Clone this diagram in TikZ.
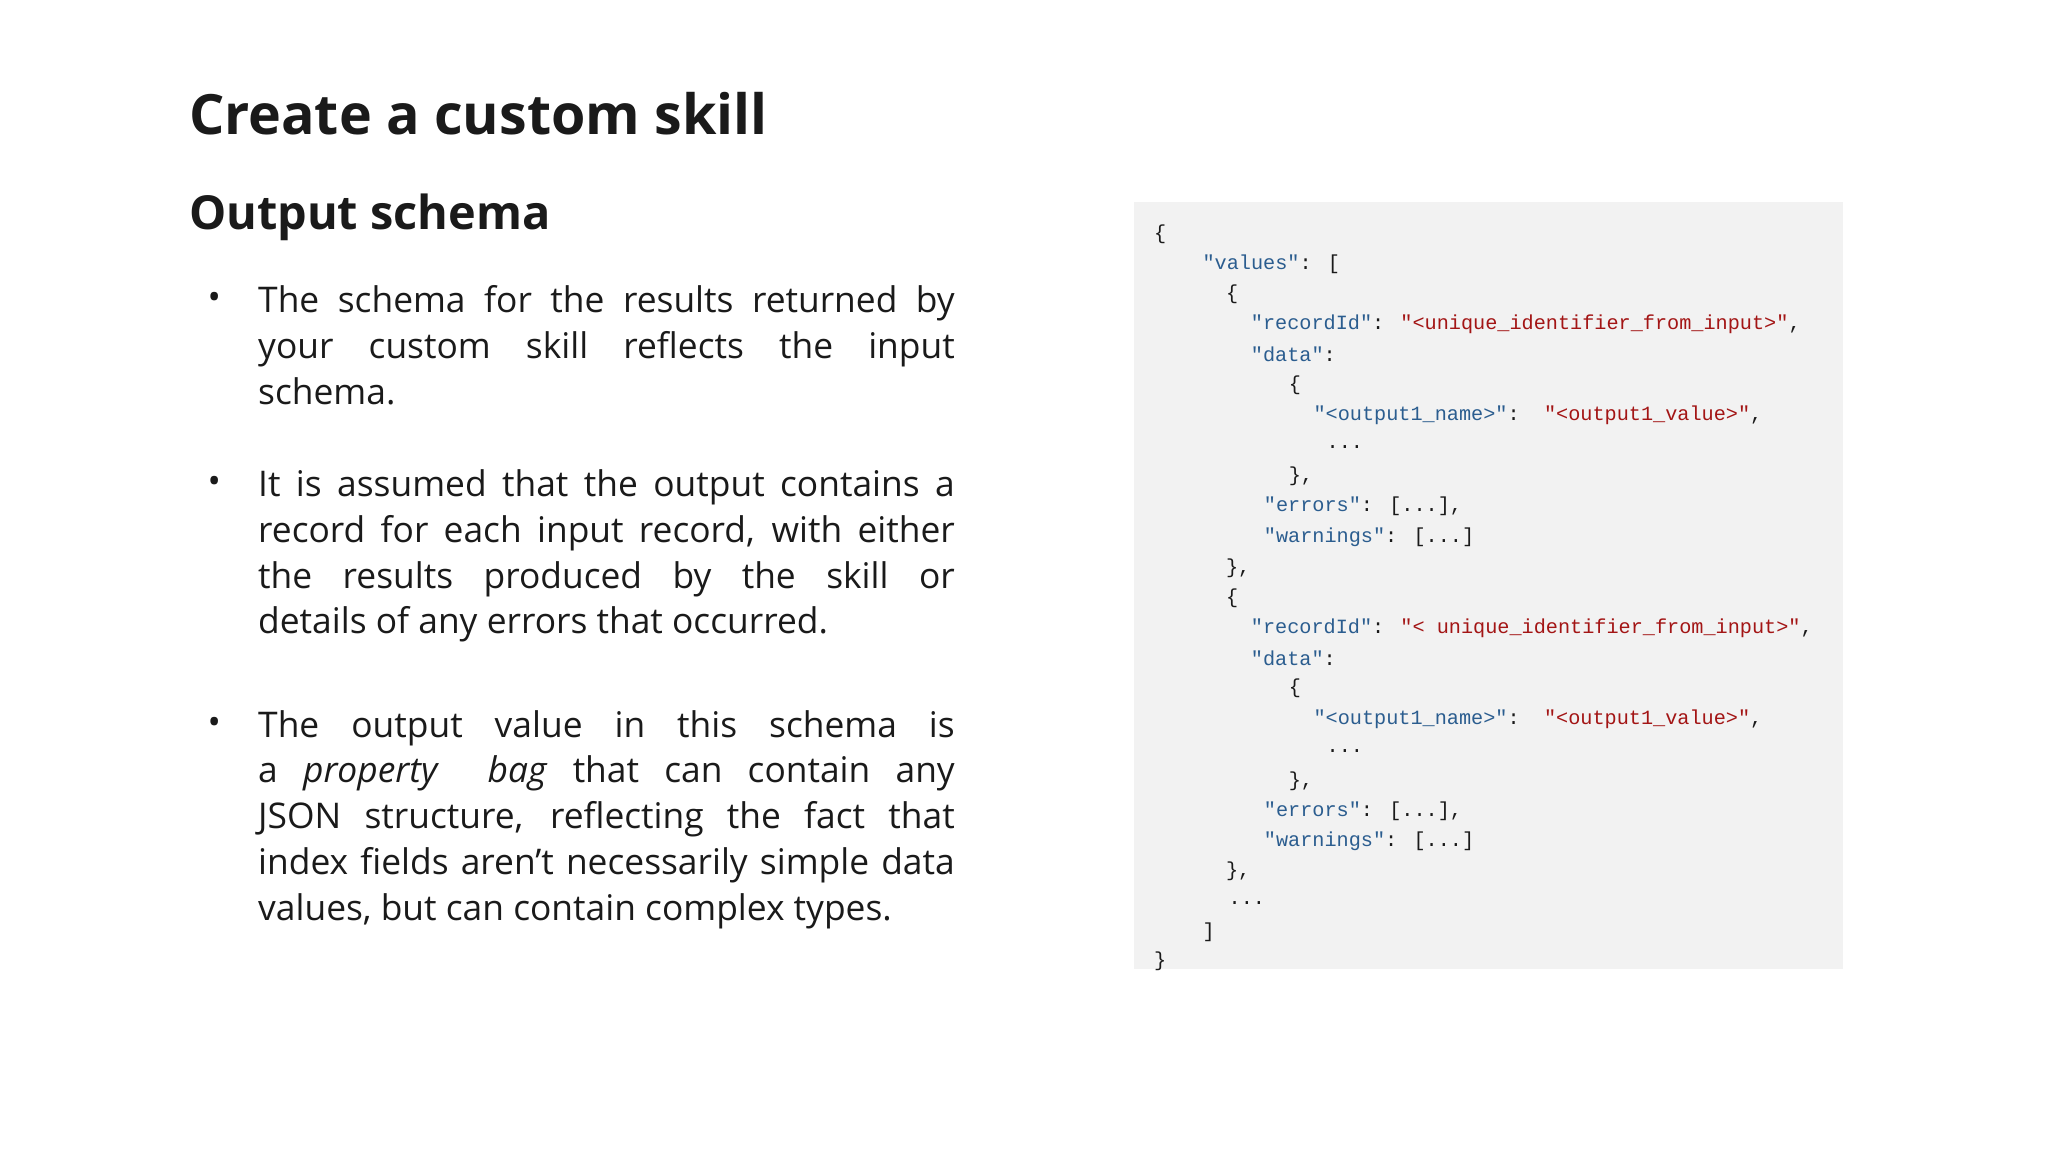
\documentclass[tikz,border=0pt]{standalone}
\usepackage{fontspec}
\setmainfont{Open Sans}
\newfontfamily\codefont{Liberation Mono}
\definecolor{keyc}{HTML}{2B5D8F}
\definecolor{strc}{HTML}{A31515}
\definecolor{boxc}{HTML}{F2F2F2}
\definecolor{txt}{HTML}{1A1A1A}
\newcommand{\Kk}[1]{\textcolor{keyc}{#1}}
\newcommand{\Ss}[1]{\textcolor{strc}{#1}}
\begin{document}
\begin{tikzpicture}[x=0.01cm,y=-0.01cm,
  code/.style={anchor=west,inner sep=0,font=\codefont\fontsize{4.4pt}{5pt}\selectfont,text=txt},
  para/.style={anchor=north west,inner sep=0,text width=5.33cm,align=justify,font=\fontsize{7.7pt}{9.96pt}\selectfont,text=txt},
  bul/.style={anchor=base,inner sep=0,font=\fontsize{7.7pt}{9pt}\selectfont,text=txt}]
\useasboundingbox (0,0) rectangle (1568,882);
\node[anchor=base west,inner sep=0,font=\bfseries\fontsize{12.1pt}{14pt}\selectfont,text=txt] (title) at (144,103) {Create a custom skill};
\node[anchor=base west,inner sep=0,font=\bfseries\fontsize{10.2pt}{12pt}\selectfont,text=txt] (sub) at (144,176) {Output schema};
\node[bul] (b1) at (164,237) {•};
\node[bul] (b2) at (164,378) {•};
\node[bul] (b3) at (164,562) {•};
\node[para] (p1) at (197,218) {The schema for the results returned by\linebreak your custom skill reflects the input\linebreak schema.};
\node[para] (p2) at (197,359) {It is assumed that the output contains a\linebreak record for each input record, with either\linebreak the results produced by the skill or\linebreak details of any errors that occurred.};
\node[para] (p3) at (197,543) {The output value in this schema is\linebreak a \textit{property\ \ bag} that can contain any\linebreak JSON structure, reflecting the fact that\linebreak index fields aren\char"0027t necessarily simple data\linebreak values, but can contain complex types.};
\fill[boxc] (868,155) rectangle (1411,742);
\node[code] (c1) at (883,179) {\{};
\node[code] (c2) at (920,202) {\Kk{"values"}: [};
\node[code] (c3) at (938,225) {\{};
\node[code] (c4) at (957,248) {\Kk{"recordId"}: \Ss{"<unique\_identifier\_from\_input>"},};
\node[code] (c5) at (957,271) {\Kk{"data"}:};
\node[code] (c6) at (986,295) {\{};
\node[code] (c7) at (1005,318) {\Kk{"<output1\_name>"}:\ \ \Ss{"<output1\_value>"},};
\node[code] (c8) at (1015,342) {...};
\node[code] (c9) at (986,365) {\},};
\node[code] (c10) at (967,388) {\Kk{"errors"}: [...],};
\node[code] (c11) at (967,411) {\Kk{"warnings"}: [...]};
\node[code] (c12) at (938,435) {\},};
\node[code] (c13) at (938,458) {\{};
\node[code] (c14) at (957,481) {\Kk{"recordId"}: \Ss{"< unique\_identifier\_from\_input>"},};
\node[code] (c15) at (957,504) {\Kk{"data"}:};
\node[code] (c16) at (986,527) {\{};
\node[code] (c17) at (1005,551) {\Kk{"<output1\_name>"}:\ \ \Ss{"<output1\_value>"},};
\node[code] (c18) at (1015,575) {...};
\node[code] (c19) at (986,598) {\},};
\node[code] (c20) at (967,621) {\Kk{"errors"}: [...],};
\node[code] (c21) at (967,644) {\Kk{"warnings"}: [...]};
\node[code] (c22) at (938,667) {\},};
\node[code] (c23) at (940,691) {...};
\node[code] (c24) at (920,714) {]};
\node[code] (c25) at (883,736) {\}};
\end{tikzpicture}
\end{document}
